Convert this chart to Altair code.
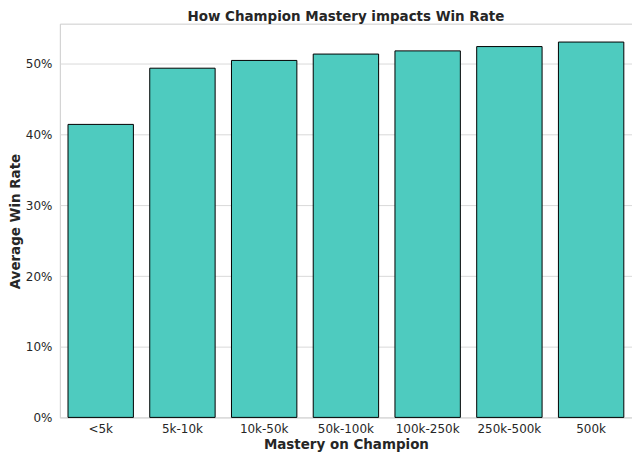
import pandas as pd
import altair as alt

mastery = ['<5k', '5k-10k', '10k-50k', '50k-100k', '100k-250k', '250k-500k', '500k']
win_rate = [0.4145, 0.494, 0.505, 0.514, 0.5185, 0.5246, 0.531]

df = pd.DataFrame({'Mastery': mastery, 'WinRate': win_rate})

font = 'DejaVu Sans'
text_color = '#262626'

chart = alt.Chart(df).mark_bar(
    color='#4ECBBF', stroke='black', strokeWidth=1
).encode(
    x=alt.X('Mastery:N', sort=mastery,
            scale=alt.Scale(paddingInner=0.2, paddingOuter=0.1),
            axis=alt.Axis(title='Mastery on Champion', labelAngle=0,
                          labelPadding=6, titlePadding=3)),
    y=alt.Y('WinRate:Q',
            scale=alt.Scale(domain=[0, 0.557], nice=False),
            axis=alt.Axis(title='Average Win Rate', format='.0%',
                          values=[0, 0.1, 0.2, 0.3, 0.4, 0.5],
                          labelPadding=8, grid=True,
                          titleX=-44, titleY=198, titleAngle=270,
                          titleAlign='center', titleBaseline='middle')),
).properties(
    width=574, height=395,
    title=alt.TitleParams('How Champion Mastery impacts Win Rate',
                          font=font, fontSize=13.5, fontWeight='bold',
                          color=text_color, anchor='middle', offset=0),
    autosize=alt.AutoSizeParams(type='none'),
    padding={'left': 52, 'top': 15, 'right': 0, 'bottom': 38},
).configure_view(
    stroke='#cccccc', strokeWidth=1
).configure_axis(
    labelFont=font, labelFontSize=12, labelColor=text_color,
    titleFont=font, titleFontSize=13.5, titleFontWeight='bold', titleColor=text_color,
    ticks=False, domain=False, gridColor='#d9d9d9', gridWidth=1
)

chart.save("out.html", embed_options={"renderer": "svg", "actions": False})
